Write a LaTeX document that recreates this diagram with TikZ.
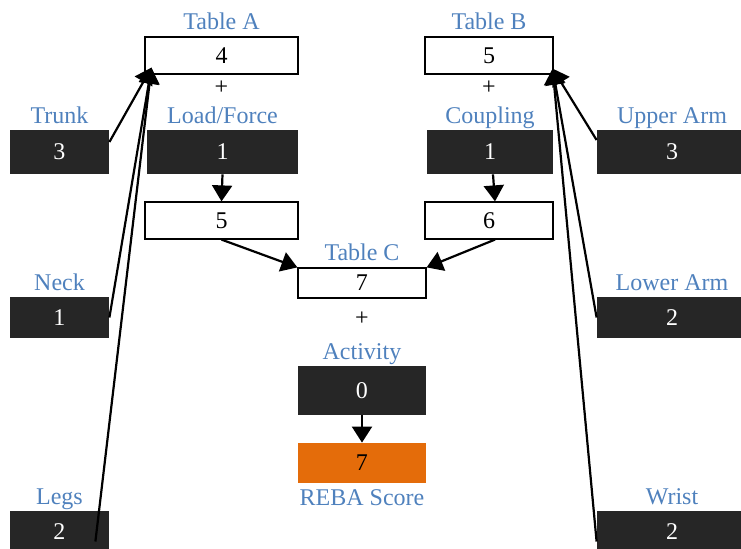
\documentclass[tikz,border=0pt]{standalone}
\usepackage{fontspec}
\setmainfont{Liberation Serif}
\usetikzlibrary{arrows.meta}
\definecolor{lblue}{RGB}{79,129,189}
\definecolor{dkfill}{RGB}{38,38,38}
\definecolor{rebaorange}{RGB}{228,108,10}

\begin{document}
\begin{tikzpicture}[x=.5pt,y=-.5pt,>={Triangle[length=8pt,width=10pt]},
every node/.style={font=\fontsize{12pt}{14pt}\selectfont},
lbl/.style={text=lblue,inner sep=0pt,text depth=0pt},
label distance=3pt,
tbox/.style={draw,line width=.6pt,fill=white},
ibox/.style={fill=dkfill,text=white},
conn/.style={->,line width=1.1pt}]
\useasboundingbox (0,0) rectangle (741,549);

 \node [tbox,minimum width=76.5pt,minimum height=18.5pt,label={[lbl]above:Table A}] (tA) at (221.5,55.5) {4};
 \node [tbox,minimum width=64pt,minimum height=18.5pt,label={[lbl]above:Table B}] (tB) at (489,55.5) {5};
 \node (pA) at (221.5,88) {+};
 \node (pB) at (489,88) {+};

 \node [ibox,minimum width=49.5pt,minimum height=22pt,label={[lbl]above:Trunk}] (trunk) at (59.5,152) {3};
 \node [ibox,minimum width=75.5pt,minimum height=22pt,label={[lbl]above:Load/Force}] (load) at (222.5,152) {1};
 \node [ibox,minimum width=63pt,minimum height=22pt,label={[lbl]above:Coupling}] (coup) at (490,152) {1};
 \node [ibox,minimum width=75pt,minimum height=22pt,label={[lbl]above:Upper Arm}] (upper) at (672,152) {3};

 \node [tbox,minimum width=76.5pt,minimum height=18.5pt] (rA) at (221.5,220.5) {5};
 \node [tbox,minimum width=64pt,minimum height=18.5pt] (rB) at (489,220.5) {6};

 \node [tbox,minimum width=64pt,minimum height=15pt,label={[lbl]above:Table C}] (tC) at (362,283) {7};
 \node (pC) at (362,319) {+};
 \node [ibox,minimum width=64pt,minimum height=24.5pt,label={[lbl]above:Activity}] (act) at (362,390.5) {0};
 \node [fill=rebaorange,minimum width=64pt,minimum height=20pt,label={[lbl]below:REBA Score}] (reba) at (362,463) {7};

 \node [ibox,minimum width=49.5pt,minimum height=20.5pt,label={[lbl]above:Neck}] (neck) at (59.5,317.5) {1};
 \node [ibox,minimum width=75pt,minimum height=20.5pt,label={[lbl]above:Lower Arm}] (lower) at (672,317.5) {2};
 \node [ibox,minimum width=49.5pt,minimum height=20.5pt,label={[lbl]above:Legs}] (legs) at (59.5,531.5) {2};
 \node [ibox,minimum width=75pt,minimum height=20.5pt,label={[lbl]above:Wrist}] (wrist) at (672,531.5) {2};

 \coordinate (inA) at ([xshift=3.5pt,yshift=3.5pt]tA.south west);
 \coordinate (inB) at ([xshift=-.5pt,yshift=3pt]tB.south east);

 \draw [conn] ([yshift=5pt]trunk.east) -- (inA);
 \draw [conn] (neck.east) -- (inA);
 \draw [conn] ([xshift=-7pt,yshift=-5pt]legs.east) -- (inA);
 \draw [conn] ([yshift=6pt]upper.west) -- (inB);
 \draw [conn] (lower.west) -- (inB);
 \draw [conn] ([yshift=-5pt]wrist.west) -- (inB);

 \draw [conn] (load.south) -- (rA.north);
 \draw [conn] ([xshift=1.5pt]coup.south) -- ([xshift=3pt]rB.north);
 \draw [conn] (rA.south) -- (tC.north west);
 \draw [conn] ([xshift=3pt]rB.south) -- (tC.north east);
 \draw [conn] (act.south) -- (reba.north);

\end{tikzpicture}
\end{document}
